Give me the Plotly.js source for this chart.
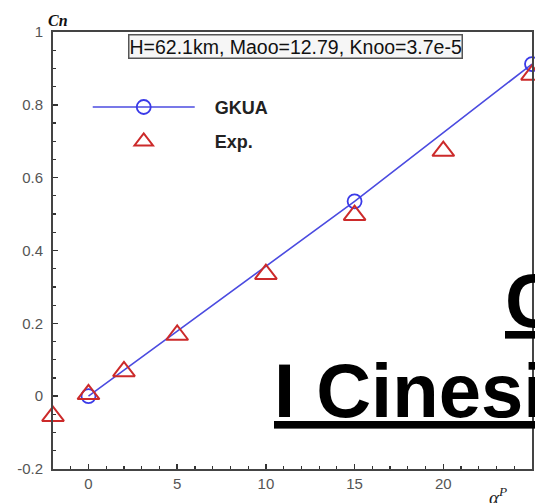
<!DOCTYPE html>
<html>
<head>
<meta charset="utf-8">
<script src="https://cdn.plot.ly/plotly-3.0.1.min.js"></script>
<style>
  html, body { margin: 0; padding: 0; background: #fff; }
  #chart { width: 535px; height: 503px; }
</style>
</head>
<body>
<div id="chart"></div>
<script>
// Normal force coefficient vs angle of attack
const alphaGKUA = [0, 15, 25];
const cnGKUA = [0, 0.535, 0.912];

const alphaExp = [-2, 0, 2, 5, 10, 15, 20, 25];
const cnExp = [-0.055, 0.005, 0.068, 0.168, 0.335, 0.497, 0.673, 0.882];

const xTickVals = [0, 5, 10, 15, 20, 25];
const xTickText = ['0', '5', '10', '15', '20', '25'];
const yTickVals = [-0.2, 0, 0.2, 0.4, 0.6, 0.8, 1];
const yTickText = ['-0.2', '0', '0.2', '0.4', '0.6', '0.8', '1'];

const seriesNames = ['GKUA', 'Exp.'];
const conditionsText = 'H=62.1km, Maoo=12.79, Knoo=3.7e-5';
const overlayLine1 = 'C';
const overlayLine2 = 'I Cinesi';

// a little breathing room between the legend symbol and its label
const pad = '\u00a0\u00a0\u00a0';

const traces = [
  {
    x: alphaGKUA, y: cnGKUA, name: pad + seriesNames[0], type: 'scatter', mode: 'lines+markers',
    line: { color: '#4b4be0', width: 1.6 },
    marker: { symbol: 'circle-open', size: 14, color: '#3a3ae8', line: { width: 1.8, color: '#3a3ae8' } },
    cliponaxis: false, legendgroup: 'a'
  },
  {
    x: alphaExp, y: cnExp, name: pad + seriesNames[1], type: 'scatter', mode: 'markers',
    marker: { symbol: 'triangle-up-open', size: 19, color: '#cc2a2a', line: { width: 2, color: '#cc2a2a' } },
    cliponaxis: false, legendgroup: 'b'
  }
];

const axisCommon = {
  showgrid: false, zeroline: false,
  showline: true, linecolor: '#444', linewidth: 2, mirror: true,
  ticks: 'inside', ticklen: 5, tickwidth: 1.5, tickcolor: '#333',
  tickfont: { family: 'Arial, Liberation Sans, sans-serif', size: 15, color: '#555' },
  tickmode: 'array'
};

const layout = {
  width: 535, height: 503,
  margin: { l: 53, r: 3, t: 32, b: 34, pad: 0 },
  paper_bgcolor: '#ffffff', plot_bgcolor: '#ffffff',
  showlegend: true,
  legend: {
    x: 0.0725, y: 0.87, xanchor: 'left', yanchor: 'top',
    bgcolor: 'rgba(0,0,0,0)', borderwidth: 0,
    traceorder: 'grouped', tracegroupgap: 8, itemwidth: 102,
    font: { family: 'Arial, Liberation Sans, sans-serif', size: 18, color: '#222', weight: 'bold' }
  },
  xaxis: Object.assign({}, axisCommon, {
    range: [-2, 25], tickvals: xTickVals, ticktext: xTickText,
    minor: { dtick: 1, ticks: 'inside', ticklen: 3, tickwidth: 1.2, tickcolor: '#333' }
  }),
  yaxis: Object.assign({}, axisCommon, {
    range: [-0.2, 1], tickvals: yTickVals, ticktext: yTickText,
    ticklabelstandoff: 5,
    minor: { dtick: 0.05, ticks: 'inside', ticklen: 3, tickwidth: 1.2, tickcolor: '#333' }
  }),
  annotations: [
    {
      text: conditionsText, xref: 'paper', yref: 'paper', x: 0.507, y: 0.967,
      xanchor: 'center', yanchor: 'middle', showarrow: false,
      font: { family: 'Arial, Liberation Sans, sans-serif', size: 19.5, color: '#111' },
      bgcolor: '#f6f6f6', bordercolor: '#555', borderwidth: 1.5, borderpad: 0
    },
    {
      text: '<b><i>Cn</i></b>', xref: 'paper', yref: 'paper', x: -0.014, y: 1.003,
      xanchor: 'left', yanchor: 'bottom', showarrow: false,
      font: { family: 'Liberation Serif, Times New Roman, serif', size: 16, color: '#111' }
    },
    {
      text: '<i>α<sup>P</sup></i>', xref: 'paper', yref: 'paper', x: 0.906, y: -0.03,
      xanchor: 'left', yanchor: 'top', showarrow: false,
      font: { family: 'Liberation Serif, Times New Roman, serif', size: 19, color: '#222' }
    },
    {
      text: '<b><u>' + overlayLine1 + '</u></b>', xref: 'paper', yref: 'paper', x: 0.939, y: 0.385,
      xanchor: 'left', yanchor: 'middle', showarrow: false,
      font: { family: 'Arial, Liberation Sans, sans-serif', size: 76, color: '#000' }
    },
    {
      text: '<b><u>' + overlayLine2 + '</u></b>', xref: 'paper', yref: 'paper', x: 0.457, y: 0.18,
      xanchor: 'left', yanchor: 'middle', showarrow: false,
      font: { family: 'Arial, Liberation Sans, sans-serif', size: 76, color: '#000' }
    }
  ]
};

Plotly.newPlot('chart', traces, layout, { staticPlot: true, displayModeBar: false });
</script>
</body>
</html>
